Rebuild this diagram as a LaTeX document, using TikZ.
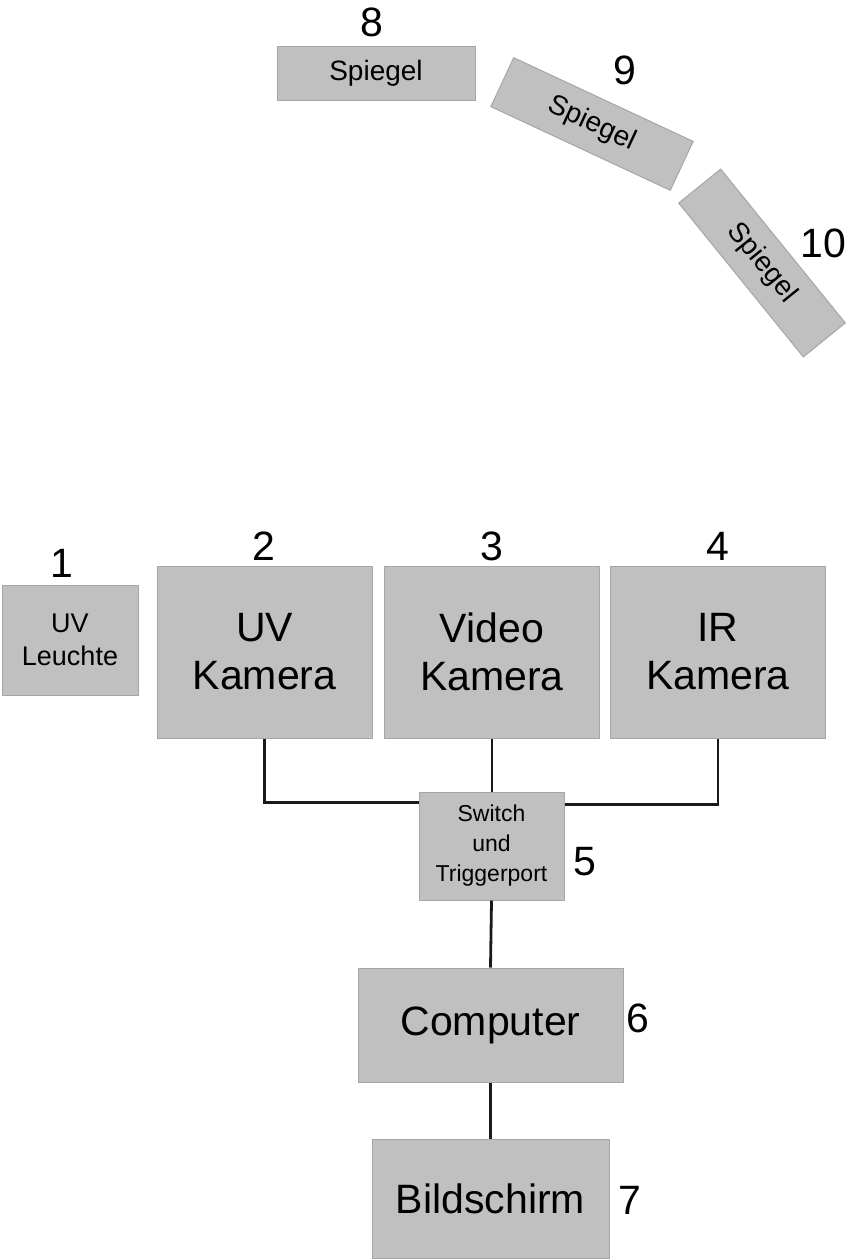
\documentclass[tikz,border=0pt]{standalone}
\usepackage{fontspec}
\setmainfont{Liberation Sans}
\usetikzlibrary{positioning}
\definecolor{Box}    {HTML}{C0C0C0}
\definecolor{BoxLine}{HTML}{A6A6A6}
\definecolor{Wire}   {HTML}{1A1A1A}

\begin{document}
\begin{tikzpicture}[x=0.5pt, y=-0.5pt,
    part/.style={draw=BoxLine, fill=Box, line width=0.5pt, inner sep=0pt,
                 align=center, text=black},
    cam/.style={part, minimum width=107.5pt, minimum height=86pt,
                font=\fontsize{20.5}{24}\selectfont},
    mirror/.style={part, minimum width=99pt, minimum height=27pt,
                   font=\fontsize{14}{16}\selectfont},
    num/.style={font=\fontsize{20.5}{24}\selectfont},
    wire/.style={Wire, line width=1.4pt}]
  \useasboundingbox (0,0) rectangle (850,1259);

  % Mirrors
  \node[mirror] (mir8) at (376,73.5) {Spiegel};
  \node[mirror, rotate=-25] (mir9) at (592,124) {Spiegel};
  \node[mirror, rotate=-51] (mir10) at (762,263) {Spiegel};

  % Lamp and cameras
  \node[part, minimum width=68pt, minimum height=55pt,
        font=\fontsize{13.5}{16.5}\selectfont] (lamp) at (70,640) {UV\\Leuchte};
  \node[cam] (uvcam) at (264.5,652) {UV\\Kamera};
  \node[cam] (vidcam) at (492,652) {Video\\Kamera};
  \node[cam] (ircam) at (718,652) {IR\\Kamera};

  % Switch, computer, screen
  \node[part, minimum width=72.5pt, minimum height=54pt,
        font=\fontsize{11.5}{15}\selectfont] (switch) at (491.5,846) {Switch\\und\\Triggerport};
  \node[part, minimum width=132.5pt, minimum height=57pt,
        font=\fontsize{20.5}{24}\selectfont] (pc) at (490.5,1025) {Computer};
  \node[part, minimum width=118.5pt, minimum height=59.5pt,
        font=\fontsize{20.5}{24}\selectfont] (screen) at (490.5,1198.5) {Bildschirm};

  % Numbers
  \foreach \n/\x/\y in {1/62/563, 2/264/546, 3/492/546, 4/718/546, 5/585/862,
                        6/638/1018, 7/630/1200, 8/372/22, 9/625/70, 10/823/243}
    \node[num] (num\n) at (\x,\y) {\n};

  % Wiring
  \draw[wire] (uvcam.south) |- ([yshift=-5.5pt]switch.north west);
  \draw[wire] (vidcam.south) -- (vidcam.south |- switch.north);
  \draw[wire] (ircam.south) |- ([yshift=-6.5pt]switch.north east);
  \draw[wire] (switch.south) -- (pc.north);
  \draw[wire] (pc.south) -- (screen.north);
\end{tikzpicture}
\end{document}
